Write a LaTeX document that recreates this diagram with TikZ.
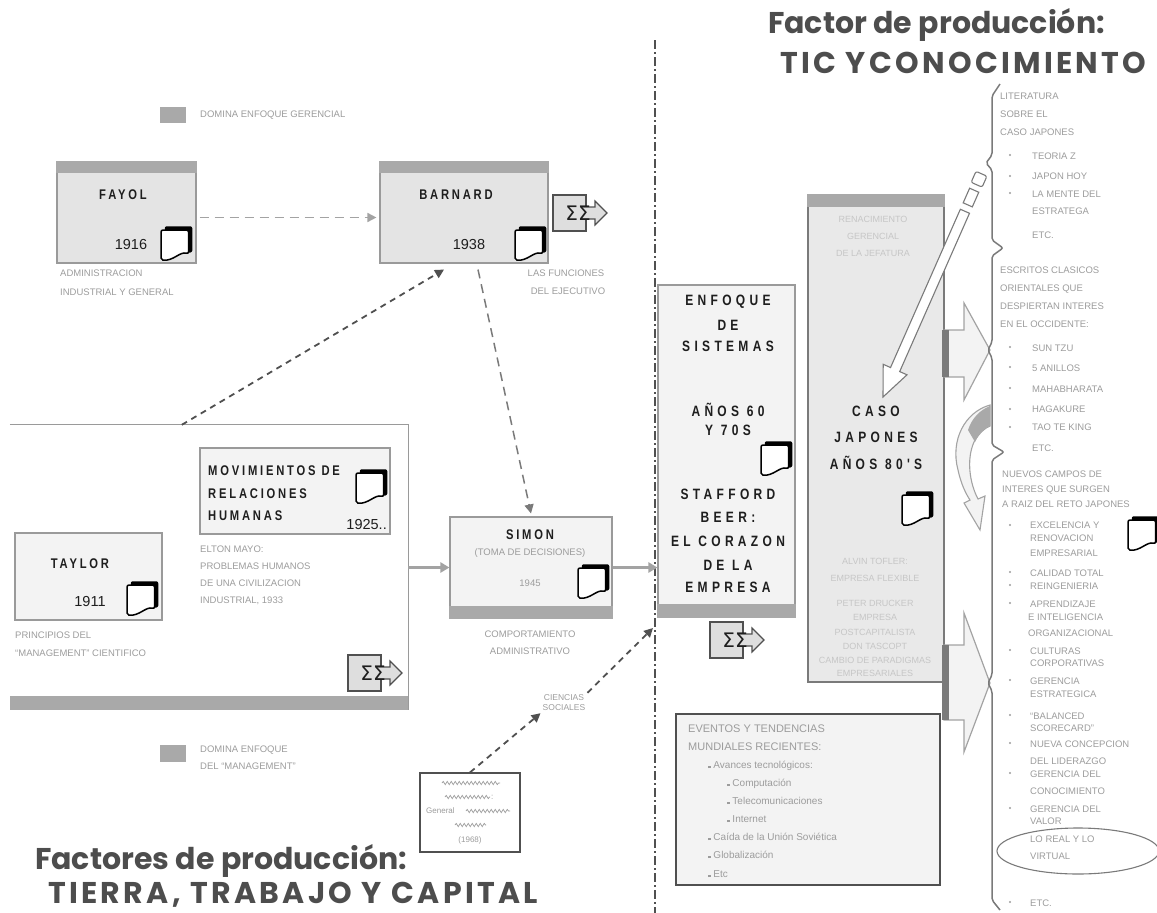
\documentclass[tikz,border=0pt]{standalone}
\usepackage{fontspec}
\usepackage{graphicx}
\setmainfont{Liberation Sans}
\newfontfamily\titlefont{Poppins}
\newfontfamily\titlecaps{Poppins}[LetterSpace=11]
\newfontfamily\boxfont{Liberation Sans}[LetterSpace=25]
\newfontfamily\boxfontw{Liberation Sans}[LetterSpace=36]
\newfontfamily\sigfont{DejaVu Sans}
\newcommand\sqz[1]{\scalebox{0.8}[1]{#1}}
\usetikzlibrary{calc,arrows.meta,decorations.pathmorphing}
\definecolor{bargray}{HTML}{A9A9A9}
\definecolor{boxfill}{HTML}{E4E4E4}
\definecolor{boxfilltwo}{HTML}{E9E9E9}
\definecolor{lightfill}{HTML}{F3F3F3}
\definecolor{bordergray}{HTML}{9A9A9A}
\definecolor{labelgray}{HTML}{9C9C9C}
\definecolor{faintgray}{HTML}{C6C6C6}
\definecolor{darktext}{HTML}{1E1E1E}
\definecolor{titlegray}{HTML}{4D4D4D}
\definecolor{arrowgray}{HTML}{A3A3A3}
\definecolor{midgray}{HTML}{7A7A7A}
\definecolor{dashdark}{HTML}{505050}
\definecolor{sigfill}{HTML}{DEDEDE}
\tikzset{
  docicon/.pic={
    \fill[black,rounded corners=2pt] (-9,-15) rectangle (13,6);
    \filldraw[fill=white,draw=black,line width=1.5,rounded corners=2pt]
      (-12,-12) -- (10,-12) -- (10,7) .. controls (3,5) and (-2,13) .. (-12,12) -- cycle;
  },
  sigicon/.pic={
    \filldraw[fill=sigfill,draw=dashdark,line width=1.5] (0,0) rectangle (33,36);
    \filldraw[fill=sigfill,draw=dashdark,line width=1.2]
      (28,12) -- (42,12) -- (42,6) -- (54,18) -- (42,30) -- (42,24) -- (28,24);
    \node[text=darktext,inner sep=0] at (25,18) {\sigfont\fontsize{20}{20}\selectfont ΣΣ};
  }
}
\begin{document}
\begin{tikzpicture}[x=1pt,y=-1pt,
  box/.style={draw=bordergray, line width=1.1, fill=lightfill, inner sep=0pt},
  ttl/.style={font={\boxfont\fontsize{14}{16}\selectfont\bfseries}, text=darktext, inner sep=0pt},
  bigttl/.style={font={\boxfontw\fontsize{15}{17}\selectfont\bfseries}, text=darktext, inner sep=0pt},
  yr/.style={font={\fontsize{14.5}{16}\selectfont}, text=darktext, inner sep=0pt},
  lbl/.style={font={\fontsize{9.5}{11}\selectfont}, text=labelgray, inner sep=0pt},
  smlbl/.style={font={\fontsize{8}{9.5}\selectfont}, text=labelgray, inner sep=0pt},
  faint/.style={font={\fontsize{9}{10}\selectfont}, text=faintgray, inner sep=0pt},
  rcol/.style={font={\fontsize{9.5}{11}\selectfont}, text=labelgray, inner sep=0pt, anchor=base west},
  evt/.style={font={\fontsize{10}{12}\selectfont}, text=labelgray, inner sep=0pt, anchor=base west},
  ttlfont/.style={font={\titlefont\bfseries\fontsize{30}{32}\selectfont}, text=titlegray, inner sep=0pt, anchor=base west},
  ttlcaps/.style={font={\titlecaps\bfseries\fontsize{30}{32}\selectfont}, text=titlegray, inner sep=0pt, anchor=base west},
  gdash/.style={draw=arrowgray, line width=1.6, dash pattern=on 9pt off 6pt, -{Triangle[length=9pt,width=9pt]}},
  mdash/.style={draw=midgray, line width=1.5, dash pattern=on 9pt off 6pt, -{Triangle[length=9pt,width=9pt]}},
  ddash/.style={draw=dashdark, line width=1.8, dash pattern=on 6pt off 5pt, -{Triangle[length=9pt,width=9pt]}},
  gsolid/.style={draw=arrowgray, line width=2.4, -{Triangle[length=9pt,width=10pt]}},
  bigarrow/.style={fill=lightfill, draw=arrowgray, line width=1.2},
  bar/.style={fill=bargray},
  doc/.style={scale=1.25}
]
\useasboundingbox (0,0) rectangle (1157,913);

% divider
\coordinate (divtop) at (655,40);
\coordinate (divbot) at (655,913);
\draw[dashdark, line width=1.3, dash pattern=on 9pt off 3pt on 2pt off 3pt] (divtop) -- (divbot);

% titles
\node[ttlfont] (t1) at (768,33) {Factor de producción:};
\node[ttlcaps] (t2) at (780,73) {TIC YCONOCIMIENTO};
\node[ttlfont] (t3) at (35,869) {Factores de producción:};
\node[ttlcaps] (t4) at (48,903) {TIERRA, TRABAJO Y CAPITAL};

% legends
\node[fill=bargray, minimum width=26pt, minimum height=16pt, inner sep=0] (leg1) at (173,115) {};
\node[lbl, anchor=west] (leg1t) at (200,115) {DOMINA ENFOQUE GERENCIAL};
\node[fill=bargray, minimum width=26pt, minimum height=17pt, inner sep=0] (leg2) at (173,753) {};
\node[lbl, anchor=base west] (leg2a) at (200,752) {DOMINA ENFOQUE};
\node[lbl, anchor=base west] (leg2b) at (200,769) {DEL ``MANAGEMENT''};

% FAYOL
\node[box, fill=boxfill, minimum width=139pt, minimum height=101pt] (fayol) at (126.5,212.5) {};
\fill[bar] (fayol.north west) rectangle ($(fayol.north east)+(0,12)$);
\node[ttl] (fayolt) at (123,195) {\sqz{FAYOL}};
\node[yr] (fayoly) at (131,245) {1916};
\pic[doc] at (176,245) {docicon};
\node[lbl, anchor=base west] (fayoll1) at (60,276) {ADMINISTRACION};
\node[lbl, anchor=base west] (fayoll2) at (60,295) {INDUSTRIAL Y GENERAL};

% BARNARD
\node[box, fill=boxfill, minimum width=168pt, minimum height=101pt] (barnard) at (464,212.5) {};
\fill[bar] (barnard.north west) rectangle ($(barnard.north east)+(0,12)$);
\node[ttl] (barnardt) at (456,195) {\sqz{BARNARD}};
\node[yr] (barnardy) at (469,245) {1938};
\pic[doc] at (530,245) {docicon};
\pic at (553,195) {sigicon};
\node[lbl] (barnl1) at (566,273) {LAS FUNCIONES};
\node[lbl] (barnl2) at (568,291) {DEL EJECUTIVO};

% big management box
\node[minimum width=398pt, minimum height=285pt, inner sep=0] (mgmt) at (209,567.5) {};
\draw[draw=bordergray, line width=1.1] (mgmt.north west) -- (mgmt.north east) -- (mgmt.south east);
\fill[bar] ($(mgmt.south west)+(0,-14)$) rectangle (mgmt.south east);

% TAYLOR
\node[box, minimum width=147pt, minimum height=87pt] (taylor) at (88.5,576.5) {};
\node[ttl] (taylort) at (80,564) {\sqz{TAYLOR}};
\node[yr] (taylory) at (90,602) {1911};
\pic[doc] at (142,600) {docicon};
\node[lbl, anchor=base west] (tayl1) at (15,638) {PRINCIPIOS DEL};
\node[lbl, anchor=base west] (tayl2) at (15,656) {``MANAGEMENT'' CIENTIFICO};

% MOVIMIENTOS
\node[box, minimum width=190pt, minimum height=86pt] (movim) at (295,491) {};
\node[ttl, anchor=base west] (movt1) at (208,475) {\sqz{MOVIMIENTOS DE}};
\node[ttl, anchor=base west] (movt2) at (208,498) {\sqz{RELACIONES}};
\node[ttl, anchor=base west] (movt3) at (208,520) {\sqz{HUMANAS}};
\node[yr, anchor=base east] (movy) at (387,529) {1925..};
\pic[doc] at (371,488) {docicon};
\node[lbl, anchor=base west] (movl1) at (200,552) {ELTON MAYO:};
\node[lbl, anchor=base west] (movl2) at (200,569) {PROBLEMAS HUMANOS};
\node[lbl, anchor=base west] (movl3) at (200,586) {DE UNA CIVILIZACION};
\node[lbl, anchor=base west] (movl4) at (200,603) {INDUSTRIAL, 1933};
\pic at (348,655) {sigicon};

% SIMON
\node[box, minimum width=162pt, minimum height=101pt] (simon) at (531,567.5) {};
\fill[bar] ($(simon.south west)+(0,-13)$) rectangle (simon.south east);
\node[ttl] (simont) at (530,535) {\sqz{SIMON}};
\node[lbl] (simons) at (530,553) {(TOMA DE DECISIONES)};
\node[lbl] (simony) at (530,583) {1945};
\pic[doc] at (593,583) {docicon};
\node[lbl] (siml1) at (530,634) {COMPORTAMIENTO};
\node[lbl] (siml2) at (530,651) {ADMINISTRATIVO};

% ENFOQUE
\node[box, minimum width=137pt, minimum height=332pt] (enfoque) at (726.5,451) {};
\fill[bar] ($(enfoque.south west)+(0,-14)$) rectangle (enfoque.south east);
\node[bigttl] (enf1) at (728,302) {\sqz{ENFOQUE}};
\node[bigttl] (enf2) at (728,325) {\sqz{DE}};
\node[bigttl] (enf3) at (728,346) {\sqz{SISTEMAS}};
\node[bigttl] (enf4) at (728,410) {\sqz{AÑOS 60}};
\node[bigttl] (enf5) at (728,430) {\sqz{Y 70S}};
\pic[doc] at (776,460) {docicon};
\node[bigttl] (enf6) at (728,494) {\sqz{STAFFORD}};
\node[bigttl] (enf7) at (728,517) {\sqz{BEER:}};
\node[bigttl] (enf8) at (728,541) {\sqz{EL CORAZON}};
\node[bigttl] (enf9) at (728,565) {\sqz{DE LA}};
\node[bigttl] (enf10) at (728,587) {\sqz{EMPRESA}};
\pic at (710,622) {sigicon};

% CASO JAPONES
\node[box, fill=boxfilltwo, draw=midgray, minimum width=136pt, minimum height=487pt] (caso) at (876,438.5) {};
\fill[bar] (caso.north west) rectangle ($(caso.north east)+(0,13)$);
\node[faint] (cf1) at (873,219) {RENACIMIENTO};
\node[faint] (cf2) at (873,236) {GERENCIAL};
\node[faint] (cf3) at (873,253) {DE LA JEFATURA};
\node[bigttl] (caso1) at (876,411) {\sqz{CASO}};
\node[bigttl] (caso2) at (876,437) {\sqz{JAPONES}};
\node[bigttl] (caso3) at (876,463) {\sqz{AÑOS 80'S}};
\pic[doc] at (917,510) {docicon};
\node[faint] (cf4) at (875,561) {ALVIN TOFLER:};
\node[faint] (cf5) at (875,578) {EMPRESA FLEXIBLE};
\node[faint] (cf6) at (875,603) {PETER DRUCKER};
\node[faint] (cf7) at (875,617) {EMPRESA};
\node[faint] (cf8) at (875,632) {POSTCAPITALISTA};
\node[faint] (cf9) at (875,646) {DON TASCOPT};
\node[faint] (cf10) at (875,660) {CAMBIO DE PARADIGMAS};
\node[faint] (cf11) at (875,673) {EMPRESARIALES};

% EVENTOS
\node[draw=dashdark, line width=1.4, fill=lightfill, minimum width=264pt, minimum height=171pt, inner sep=0] (eventos) at (808,799.5) {};
\node[evt, font={\fontsize{11}{13}\selectfont}] (ev1) at (688,732) {EVENTOS Y TENDENCIAS};
\node[evt, font={\fontsize{11}{13}\selectfont}] (ev2) at (688,750) {MUNDIALES RECIENTES:};
\node[evt] (ev3) at (708,768) {\rule{2.5pt}{2.5pt} Avances tecnológicos:};
\node[evt] (ev4) at (727,786) {\rule{2.5pt}{2.5pt} Computación};
\node[evt] (ev5) at (727,804) {\rule{2.5pt}{2.5pt} Telecomunicaciones};
\node[evt] (ev6) at (727,822) {\rule{2.5pt}{2.5pt} Internet};
\node[evt] (ev7) at (708,840) {\rule{2.5pt}{2.5pt} Caída de la Unión Soviética};
\node[evt] (ev8) at (708,858) {\rule{2.5pt}{2.5pt} Globalización};
\node[evt] (ev9) at (708,877) {\rule{2.5pt}{2.5pt} Etc};

% big white arrows
\filldraw[bigarrow] (944,330) -- (964,330) -- (964,303) -- (990,350) -- (964,400) -- (964,377) -- (944,377) -- cycle;
\fill[midgray] (942,330) rectangle (949,377);
\filldraw[bigarrow] (944,645) -- (964,645) -- (964,613) -- (990,683) -- (964,752) -- (964,720) -- (944,720) -- cycle;
\fill[midgray] (942,645) rectangle (949,720);

% curved arrow
\filldraw[fill=lightfill, draw=arrowgray, line width=1.1]
  (990,405) .. controls (965,412) and (950,440) .. (958,470)
  .. controls (961,484) and (966,494) .. (970,500) -- (964,503) -- (980,530) -- (985,496) -- (978,499)
  .. controls (970,484) and (966,460) .. (974,442) .. controls (979,433) and (985,428) .. (990,426) -- cycle;
\fill[bargray] (990,406) .. controls (980,410) and (972,418) .. (968,430) -- (975,442)
  .. controls (979,433) and (985,428) .. (990,426) -- cycle;

% pencil
\begin{scope}[shift={(883,397)}, rotate=66.2]
  \filldraw[fill=white, draw=midgray, line width=1.1] (0,0) -- (30,-13) -- (30,-5) -- (203,-5) -- (203,5) -- (30,5) -- (30,13) -- cycle;
  \filldraw[fill=white, draw=midgray, line width=1.1] (210,-5) rectangle (226,5);
  \filldraw[fill=white, draw=midgray, line width=1.1, rounded corners=2pt] (232,-6) rectangle (244,6);
\end{scope}

% brace
\draw[midgray, line width=1.5, rounded corners=2pt] (1000,84) -- (992,96) -- (992,155) -- (986,163) -- (992,170)
  -- (992,240) -- (1003,248) -- (992,256) -- (992,342) -- (988,350) -- (992,358)
  -- (992,445) -- (1004,452) -- (992,460) -- (992,675) -- (988,683) -- (992,691)
  -- (992,900) -- (1000,910);

% right column
\node[rcol] (r1) at (1000,99) {LITERATURA};
\node[rcol] (r2) at (1000,117) {SOBRE EL};
\node[rcol] (r3) at (1000,135) {CASO JAPONES};
\node[rcol] (r4) at (1032,159) {TEORIA Z};
\node[rcol] (r5) at (1032,179) {JAPON HOY};
\node[rcol] (r6) at (1032,197) {LA MENTE DEL};
\node[rcol] (r7) at (1032,214) {ESTRATEGA};
\node[rcol] (r8) at (1032,238) {ETC.};
\node[rcol] (r9) at (1000,273) {ESCRITOS CLASICOS};
\node[rcol] (r10) at (1000,291) {ORIENTALES QUE};
\node[rcol] (r11) at (1000,309) {DESPIERTAN INTERES};
\node[rcol] (r12) at (1000,327) {EN EL OCCIDENTE:};
\node[rcol] (r13) at (1032,351) {SUN TZU};
\node[rcol] (r14) at (1032,371) {5 ANILLOS};
\node[rcol] (r15) at (1032,392) {MAHABHARATA};
\node[rcol] (r16) at (1032,412) {HAGAKURE};
\node[rcol] (r17) at (1032,430) {TAO TE KING};
\node[rcol] (r18) at (1032,451) {ETC.};
\node[rcol] (r19) at (1002,477) {NUEVOS CAMPOS DE};
\node[rcol] (r20) at (1002,492) {INTERES QUE SURGEN};
\node[rcol] (r21) at (1002,507) {A RAIZ DEL RETO JAPONES};
\node[rcol] (r22) at (1030,528) {EXCELENCIA Y};
\node[rcol] (r23) at (1030,541) {RENOVACION};
\node[rcol] (r24) at (1030,556) {EMPRESARIAL};
\pic[doc] at (1143,535) {docicon};
\node[rcol] (r25) at (1030,576) {CALIDAD TOTAL};
\node[rcol] (r26) at (1030,589) {REINGENIERIA};
\node[rcol] (r27) at (1030,607) {APRENDIZAJE};
\node[rcol] (r28) at (1028,620) {E INTELIGENCIA};
\node[rcol] (r29) at (1028,636) {ORGANIZACIONAL};
\node[rcol] (r30) at (1030,654) {CULTURAS};
\node[rcol] (r31) at (1030,666) {CORPORATIVAS};
\node[rcol] (r32) at (1030,684) {GERENCIA};
\node[rcol] (r33) at (1030,697) {ESTRATEGICA};
\node[rcol] (r34) at (1030,719) {``BALANCED};
\node[rcol] (r35) at (1030,731) {SCORECARD''};
\node[rcol] (r36) at (1030,747) {NUEVA CONCEPCION};
\node[rcol] (r37) at (1030,764) {DEL LIDERAZGO};
\node[rcol] (r38) at (1030,777) {GERENCIA DEL};
\node[rcol] (r39) at (1030,794) {CONOCIMIENTO};
\node[rcol] (r40) at (1030,812) {GERENCIA DEL};
\node[rcol] (r41) at (1030,824) {VALOR};
\node[rcol] (r42) at (1030,842) {LO REAL Y LO};
\node[rcol] (r43) at (1030,859) {VIRTUAL};
\node[rcol] (r44) at (1030,906) {ETC.};
\draw[midgray, line width=1.1] (1078,851) ellipse [x radius=81, y radius=23];
\foreach \yy in {155,176,193,347,367,388,409,427,525,572,585,603,650,680,715,743,773,808,902}
  \fill[labelgray] (1010,\yy) circle (1.2);

% ciencias sociales
\node[draw=dashdark, line width=1.2, fill=white, minimum width=100pt, minimum height=79pt, inner sep=0] (bert) at (470,812.5) {};
\draw[labelgray, line width=0.7, decorate, decoration={snake, amplitude=1.6pt, segment length=4pt}] (442,783) -- (500,783);
\draw[labelgray, line width=0.7, decorate, decoration={snake, amplitude=1.6pt, segment length=4pt}] (445,797) -- (490,797);
\node[smlbl, anchor=west] (bcol) at (491,797) {:};
\node[smlbl, anchor=west] (bgen) at (426,811) {General};
\draw[labelgray, line width=0.7, decorate, decoration={snake, amplitude=1.6pt, segment length=4pt}] (466,811) -- (510,811);
\draw[labelgray, line width=0.7, decorate, decoration={snake, amplitude=1.6pt, segment length=4pt}] (455,825) -- (486,825);
\node[smlbl] (byr) at (470,840) {(1968)};
\node[lbl, font={\fontsize{8.5}{10}\selectfont}, align=center] (cienc) at (564,703) {CIENCIAS\\SOCIALES};
\coordinate (divend) at (653,628);
\draw[ddash] (bert.north) -- ($(cienc.south west)+(-2,2)$);
\draw[ddash] ($(cienc.north east)+(2,-2)$) -- (divend);

% connectors
\draw[gdash] ($(fayol.east)+(3,5)$) -- ($(barnard.west)+(-3,5)$);
\draw[ddash] ($(mgmt.north west)+(172,0)$) -- ($(barnard.south)+(-20,6)$);
\draw[mdash] ($(barnard.south)+(14,6)$) -- ($(simon.north)+(0,-3)$);
\draw[gsolid] (mgmt.east) -- (simon.west);
\draw[gsolid] (simon.east) -- (simon.east -| enfoque.west);
\end{tikzpicture}
\end{document}
